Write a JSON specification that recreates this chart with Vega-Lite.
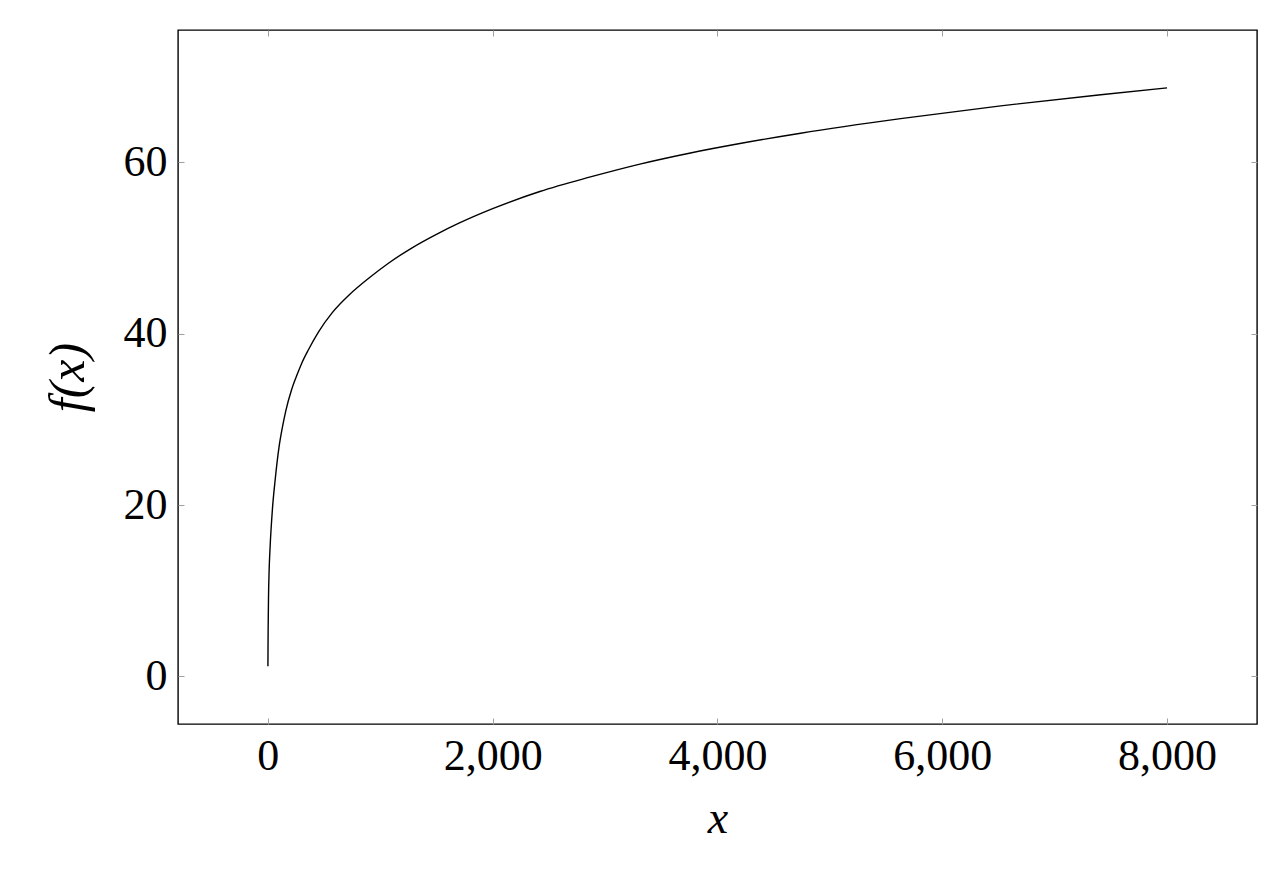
{
  "$schema": "https://vega.github.io/schema/vega-lite/v6.json",
  "width": 1079,
  "height": 694,
  "autosize": {"type": "none"},
  "padding": {"left": 178, "top": 30, "right": 27, "bottom": 148},
  "background": "white",
  "config": {
    "view": {"stroke": "black", "strokeWidth": 1.4},
    "font": "Liberation Serif",
    "axis": {
      "domain": false,
      "grid": false,
      "tickColor": "#a0a0a0",
      "tickSize": -6,
      "tickWidth": 1,
      "labelFont": "Liberation Serif",
      "labelFontSize": 44,
      "labelColor": "black",
      "titleFont": "Liberation Serif",
      "titleFontSize": 46,
      "titleFontWeight": "normal",
      "titleFontStyle": "italic",
      "titleColor": "black"
    }
  },
  "data": {
    "values": [
      {"x": 1, "y": 1.2},
      {"x": 2, "y": 3.8},
      {"x": 3, "y": 5.5},
      {"x": 6, "y": 9.0},
      {"x": 12, "y": 12.5},
      {"x": 20, "y": 15.0},
      {"x": 42, "y": 19.7},
      {"x": 65, "y": 22.9},
      {"x": 100, "y": 26.8},
      {"x": 130, "y": 29.1},
      {"x": 160, "y": 31.0},
      {"x": 210, "y": 33.4},
      {"x": 260, "y": 35.2},
      {"x": 300, "y": 36.5},
      {"x": 360, "y": 38.1},
      {"x": 450, "y": 40.2},
      {"x": 570, "y": 42.4},
      {"x": 730, "y": 44.6},
      {"x": 900, "y": 46.5},
      {"x": 1070, "y": 48.2},
      {"x": 1280, "y": 50.0},
      {"x": 1500, "y": 51.6},
      {"x": 1700, "y": 52.9},
      {"x": 2000, "y": 54.6},
      {"x": 2420, "y": 56.6},
      {"x": 2870, "y": 58.3},
      {"x": 3310, "y": 59.8},
      {"x": 3760, "y": 61.1},
      {"x": 4200, "y": 62.2},
      {"x": 4740, "y": 63.4},
      {"x": 5630, "y": 65.1},
      {"x": 6520, "y": 66.6},
      {"x": 7410, "y": 67.9},
      {"x": 8000, "y": 68.7}
    ]
  },
  "layer": [
    {
      "mark": {"type": "line", "color": "black", "strokeWidth": 1.4, "interpolate": "monotone"},
      "encoding": {
        "x": {
          "field": "x",
          "type": "quantitative",
          "scale": {"domain": [-799, 8800], "nice": false, "zero": false},
          "axis": {
            "orient": "bottom",
            "values": [0, 2000, 4000, 6000, 8000],
            "format": ",d",
            "title": "x",
            "labelPadding": 16,
            "titlePadding": 18
          }
        },
        "y": {
          "field": "y",
          "type": "quantitative",
          "scale": {"domain": [-5.55, 75.45], "nice": false, "zero": false},
          "axis": {
            "orient": "left",
            "values": [0, 20, 40, 60],
            "format": "d",
            "title": "f(x)",
            "titleFontSize": 50,
            "labelPadding": 17,
            "titlePadding": 30
          }
        }
      }
    },
    {
      "mark": {"type": "line", "opacity": 0},
      "encoding": {
        "x": {
          "field": "x",
          "type": "quantitative",
          "axis": {"orient": "top", "values": [0, 2000, 4000, 6000, 8000], "labels": false, "title": null}
        },
        "y": {
          "field": "y",
          "type": "quantitative",
          "axis": {"orient": "right", "values": [0, 20, 40, 60], "labels": false, "title": null}
        }
      }
    }
  ],
  "resolve": {"axis": {"x": "independent", "y": "independent"}}
}
